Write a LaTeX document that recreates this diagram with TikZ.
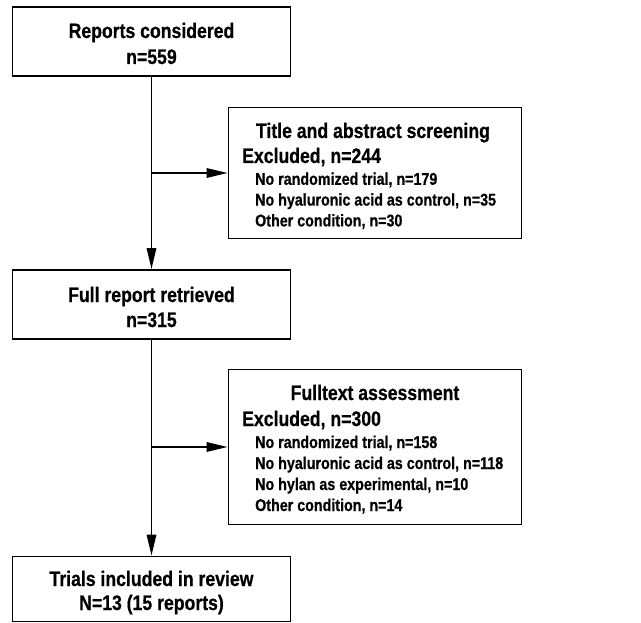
\documentclass[tikz,border=0pt]{standalone}
\usepackage{fontspec}
\setmainfont{Liberation Sans}[FakeStretch=0.84, BoldFeatures={FakeBold=0.6}]
\usetikzlibrary{arrows.meta}

\begin{document}
\begin{tikzpicture}[x=1pt, y=-1pt,
    box/.style={draw, line width=1.9pt, inner sep=0pt},
    txt/.style={inner sep=0pt, anchor=base, font=\fontsize{21}{25}\selectfont\bfseries},
    item/.style={inner sep=0pt, anchor=base west, font=\fontsize{17}{20}\selectfont\bfseries},
    flow/.style={line width=1.7pt, -{Triangle[length=21pt, width=9.5pt]}}]
    \useasboundingbox (0,0) rectangle (641,623);

    % Reports considered
    \node[box, minimum width=278pt, minimum height=69pt] (rep) at (151.5,41.5) {};
    \node[txt] (rep-t) at (151.5,38) {Reports considered};
    \node[txt] (rep-n) at (151.5,64) {n=559};

    % Title and abstract screening
    \node[box, minimum width=293pt, minimum height=131pt] (scr) at (375,173) {};
    \node[txt] (scr-t) at (373,138) {Title and abstract screening};
    \node[txt, anchor=base west] (scr-x) at (242,163) {Excluded, n=244};
    \foreach \txt [count=\i] in {{No randomized trial, n=179},
        {No hyaluronic acid as control, n=35}, {Other condition, n=30}}
        \node[item] (scr-\i) at (255,164+20.8*\i) {\txt};

    % Full report retrieved
    \node[box, minimum width=278pt, minimum height=69pt] (full) at (151.5,304.5) {};
    \node[txt] (full-t) at (151.5,302) {Full report retrieved};
    \node[txt] (full-n) at (151.5,327) {n=315};

    % Fulltext assessment
    \node[box, minimum width=293pt, minimum height=155pt] (ass) at (375,447) {};
    \node[txt] (ass-t) at (375,400) {Fulltext assessment};
    \node[txt, anchor=base west] (ass-x) at (242,426) {Excluded, n=300};
    \foreach \txt [count=\i] in {{No randomized trial, n=158},
        {No hyaluronic acid as control, n=118}, {No hylan as experimental, n=10},
        {Other condition, n=14}}
        \node[item] (ass-\i) at (255,427+21*\i) {\txt};

    % Trials included
    \node[box, minimum width=278pt, minimum height=65pt] (inc) at (151.5,589) {};
    \node[txt] (inc-t) at (151.5,586) {Trials included in review};
    \node[txt] (inc-n) at (151.5,610) {N=13 (15 reports)};

    % arrows
    \draw[flow] (rep.south) -- (full.north);
    \draw[flow] (rep.south |- scr.west) -- (scr.west);
    \draw[flow] (full.south) -- (inc.north);
    \draw[flow] (full.south |- ass.west) -- (ass.west);
\end{tikzpicture}
\end{document}
